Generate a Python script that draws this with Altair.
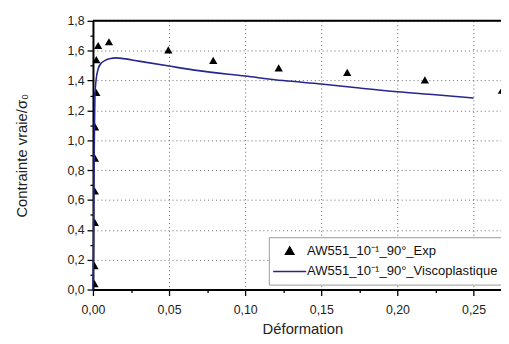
import altair as alt
import pandas as pd

# Experimental points
exp_x = [0.0010, 0.0010, 0.0012, 0.0012, 0.0013, 0.0014, 0.0022, 0.0022, 0.0034,
         0.0105, 0.0495, 0.0790, 0.1220, 0.1670, 0.2180, 0.2686]
exp_y = [0.04, 0.16, 0.45, 0.66, 0.88, 1.09, 1.32, 1.54, 1.635,
         1.66, 1.605, 1.535, 1.485, 1.455, 1.405, 1.335]

# Viscoplastic model curve
mod_x = [0.0, 0.0004, 0.0006, 0.0008, 0.0010, 0.0013, 0.0020, 0.0035, 0.0055,
         0.0080, 0.0115, 0.0152, 0.0200, 0.0300, 0.0500, 0.0680, 0.1000,
         0.1250, 0.1500, 0.1750, 0.2000, 0.2250, 0.2500]
mod_y = [0.0, 0.30, 0.60, 0.90, 1.10, 1.30, 1.40, 1.48, 1.517,
         1.535, 1.548, 1.552, 1.547, 1.530, 1.497, 1.468, 1.43,
         1.40, 1.377, 1.35, 1.325, 1.305, 1.283]

# Axis tick values
x_major = [0, 0.05, 0.10, 0.15, 0.20, 0.25]
x_minor = [0.025, 0.075, 0.125, 0.175, 0.225]
y_major = [0, 0.2, 0.4, 0.6, 0.8, 1.0, 1.2, 1.4, 1.6, 1.8]
y_minor = [0.1, 0.3, 0.5, 0.7, 0.9, 1.1, 1.3, 1.5, 1.7]

s_exp = "AW551_10\u207b\u00b9_90°_Exp"
s_mod = "AW551_10\u207b\u00b9_90°_Viscoplastique"
series = [s_exp, s_mod]

df_exp = pd.DataFrame({"x": exp_x, "y": exp_y, "s": s_exp})
df_mod = pd.DataFrame({"x": mod_x, "y": mod_y, "s": s_mod})

FONT = "Liberation Sans"
W, H = 413, 272

xs = alt.Scale(domain=[0, 0.268], nice=False, zero=False)
ys = alt.Scale(domain=[0, 1.8], nice=False)

common = dict(grid=True, gridDash=[1, 3], gridColor="#666666", gridWidth=1,
              domainColor="black", domainWidth=2, tickColor="black", tickWidth=1.3,
              labelColor="#222222", titleColor="#222222", labelFlush=False,
              titleFontWeight="normal", labelFontSize=12.5, tickSize=6)

xaxis = alt.Axis(values=x_major,
                 labelExpr="replace(format(datum.value, '.2f'), '.', ',')",
                 title="Déformation", titleFontSize=15,
                 titleX=212, titleY=39, titleBaseline="middle",
                 labelPadding=8, orient="bottom", **common)
yaxis = alt.Axis(values=y_major,
                 labelExpr="replace(format(datum.value, '.1f'), '.', ',')",
                 title="Contrainte vraie/σ\u2080", titleFontSize=15,
                 titleX=-72, titleBaseline="middle",
                 labelPadding=3, orient="left", **common)

xaxis_minor = alt.Axis(values=x_minor, labels=False, grid=False, domain=False, title="",
                       tickSize=3, tickColor="black", tickWidth=1.3, orient="bottom")
yaxis_minor = alt.Axis(values=y_minor, labels=False, grid=False, domain=False, title="",
                       tickSize=3, tickColor="black", tickWidth=1.3, orient="left")

leg = alt.Legend(title=None, orient="none", legendX=178, legendY=219,
                 labelFontSize=13.2, labelLimit=400, labelColor="#111111",
                 strokeColor="#999999", fillColor="white", padding=7,
                 rowPadding=6, symbolSize=70, symbolOffset=7.5, labelOffset=11,
                 symbolStrokeWidth=1.5)

color = alt.Color("s:N", scale=alt.Scale(domain=series, range=["black", "#26268f"]), legend=leg)
shape = alt.Shape("s:N", scale=alt.Scale(domain=series, range=["triangle-up", "M-4,0H4"]), legend=leg)

pts = alt.Chart(df_exp).mark_point(filled=True, size=70, opacity=1, clip=True).encode(
    x=alt.X("x:Q", scale=xs, axis=xaxis),
    y=alt.Y("y:Q", scale=ys, axis=yaxis),
    color=color,
    shape=shape,
)
line = alt.Chart(df_mod).mark_line(strokeWidth=1.6, interpolate="monotone").encode(
    x=alt.X("x:Q", scale=xs, axis=None),
    y=alt.Y("y:Q", scale=ys, axis=None),
    color=color,
)
minor = alt.Chart(df_exp).mark_point(opacity=0).encode(
    x=alt.X("x:Q", scale=xs, axis=xaxis_minor),
    y=alt.Y("y:Q", scale=ys, axis=yaxis_minor),
)
top = alt.Chart(pd.DataFrame({"y": [1.8]})).mark_rule(color="black", strokeWidth=2).encode(
    y=alt.Y("y:Q", scale=ys, axis=None)
)

chart = alt.layer(pts, line, top, minor).resolve_axis(x="independent", y="independent").properties(
    width=W, height=H,
    autosize=alt.AutoSizeParams(type="none"),
    padding={"left": 86, "top": 11, "right": 0, "bottom": 45},
).configure_view(stroke=None).configure(font=FONT)

chart.save("out.html", embed_options={"renderer": "svg", "actions": False})
